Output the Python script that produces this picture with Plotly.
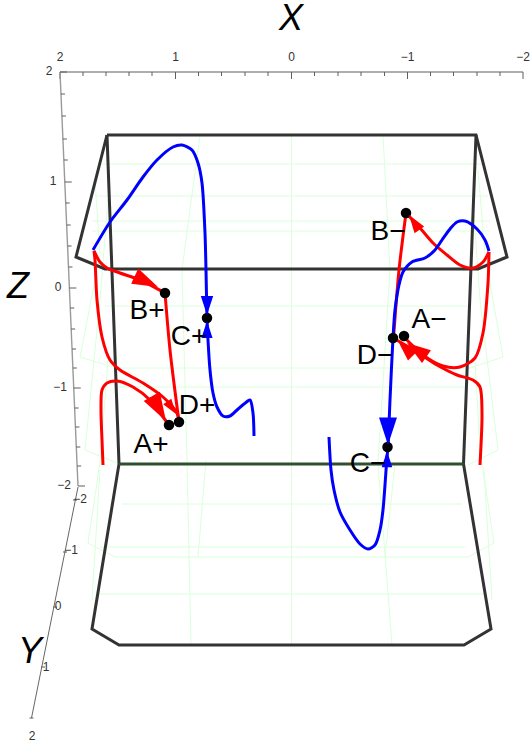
import plotly.graph_objects as go

# --- projected positions ---
frame_paths = [
    ([107, 476, 507, 478, 105, 76, 107], [135, 135, 257, 269, 269, 257, 135]),
    ([107, 119, 92, 119, 464, 491, 463.5, 476], [135, 464, 629, 645, 645, 629, 464, 135]),
]
floor_edge_x = [119, 463.5]
floor_edge_y = [464, 464]

grid_paths = [
    ([100, 482], [164, 164]), ([95, 488], [196, 196]), ([92, 490], [221, 221]), ([92, 490], [231, 231]),
    ([105, 470], [306, 306]), ([113, 470], [368, 368]), ([115, 468], [387, 387]),
    ([122, 462], [504, 504]), ([100, 465], [547, 547]), ([115, 468], [557, 557]), ([98, 485], [594, 594]),
    ([291.5, 291.5], [135, 645]),
    ([200, 182, 187, 191], [135, 270, 460, 645]), ([383, 390, 378, 392], [135, 270, 464, 645]),
    ([206, 198], [460, 557]), ([395, 385], [464, 557]),
    ([80, 113], [357, 367]), ([85, 117], [450, 463]), ([88, 115], [543, 557]),
    ([503, 470], [357, 368]), ([498, 468], [450, 465]), ([494, 468], [543, 557]),
    ([80, 100, 95], [357, 255, 180]), ([85, 100, 108], [450, 300, 200]), ([88, 100, 108], [543, 462, 360]),
    ([503, 485, 478], [357, 255, 170]), ([498, 480, 473], [450, 300, 200]), ([494, 480, 475], [543, 450, 360]),
    ([100, 92], [470, 600]), ([484, 492], [470, 600]),
]

x_axis_major = [60, 175.5, 291.5, 407.5, 523]
x_axis_minor = [83, 106, 129, 152, 198.5, 221.5, 245, 268, 314.5, 338, 361, 384.5, 430.5, 453.5, 477, 500]
x_axis_labels = ["2", "1", "0", "−1", "−2"]

z_axis_major_y = [72, 182, 288, 388, 486]
z_axis_minor_y = [94, 116, 139, 160, 203, 225, 246, 267, 308, 329, 349, 368, 408, 427, 447, 466]
z_axis_labels = ["2", "1", "0", "−1", "−2"]
z_label_x = [49, 53, 58, 60, 64]

y_axis_x = [78, 31.5]
y_axis_y = [487, 718]
y_tick_x = [75, 65, 55, 43, 31.5]
y_tick_y = [500, 552, 607, 667, 718]
y_axis_labels = ["−2", "−1", "0", "1", "2"]
y_label_x = [80, 71, 58, 46, 32]
y_label_y = [500, 551, 607, 668, 737]

blue_curves = [
    ([93, 110, 127, 143, 157, 173, 182, 192, 198, 202, 205, 206, 207, 208, 210, 213, 217, 223, 230, 237, 244, 250, 253, 254],
     [250, 222, 200, 177, 160, 147, 145, 150, 163, 183, 233, 270, 318, 340, 370, 393, 407, 416, 416, 410, 404, 400, 413, 436]),
    ([489, 485, 477, 465, 457, 450, 442, 435, 425, 412, 403, 399, 395, 393, 390, 388, 387, 383, 380, 375, 368, 360, 350, 340, 334, 331, 329],
     [251, 240, 229, 221, 222, 229, 240, 250, 258, 262, 272, 285, 310, 338, 400, 447, 457, 510, 530, 545, 549, 544, 530, 512, 490, 470, 437]),
]
red_curves = [
    ([94, 100, 107, 120, 140, 165], [251, 262, 268, 273, 280, 293]),
    ([94, 95, 97, 102, 110, 120, 143, 163, 177, 179], [251, 260, 300, 337, 360, 370, 383, 397, 413, 422]),
    ([165, 170, 179], [293, 350, 422]),
    ([103, 102, 101, 102, 107, 117, 133, 150, 160, 169], [465, 440, 410, 390, 383, 381, 387, 400, 413, 425]),
    ([489, 483, 473, 460, 447, 433, 420, 406], [252, 262, 268, 265, 255, 243, 228, 213]),
    ([406, 399, 393.5], [213, 270, 338]),
    ([489, 488, 483, 475, 460, 443, 423, 404], [252, 283, 333, 358, 367, 366, 355, 337]),
    ([480, 482, 480, 473, 457, 437, 417, 395], [465, 413, 387, 380, 375, 365, 352, 339]),
]

red_head_x = [158, 176, 166, 409, 407, 398]
red_head_y = [287, 414, 421, 215, 343, 341]
red_head_angle = [115, 145, 150, -35, -55, -45]
red_head_size = [27, 16, 30, 19, 25, 22]

blue_head_x = [207, 207, 388, 387]
blue_head_y = [315, 321, 445, 451]
blue_head_angle = [180, 0, 180, 0]
blue_head_size = [20, 18, 29, 17]

point_x = [169, 179, 165, 207, 404, 406, 387.5, 393]
point_y = [425, 422, 293, 318, 336, 213, 447, 338]

pt_label = ["A+", "D+", "B+", "C+", "A−", "B−", "C−", "D−"]
pt_label_x = [151, 197, 147, 189, 429, 388, 368, 375]
pt_label_y = [446, 407, 312, 338, 321, 233, 465, 357]

axis_title = ["X", "Y", "Z"]
axis_title_x = [291, 30, 18]
axis_title_y = [21, 654, 289]

FONT = "Liberation Sans"
AX = "#5f5f5f"
fig = go.Figure()


def line(xs, ys, color, width, shape="linear"):
    fig.add_trace(go.Scatter(x=xs, y=ys, mode="lines", hoverinfo="skip",
                             line=dict(color=color, width=width, shape=shape, smoothing=0.8)))


for gx, gy in grid_paths:
    line(gx, gy, "rgb(218,255,218)", 1)

# axes
line([x_axis_major[0], x_axis_major[-1]], [72, 72], AX, 1.2)
for v in x_axis_major:
    line([v, v], [72, 79], AX, 1)
for v in x_axis_minor:
    line([v, v], [72, 76], AX, 1)
z_top, z_bot = (60, 72), (78, 486)


def z_x(yv):
    return z_top[0] + (yv - z_top[1]) * (z_bot[0] - z_top[0]) / (z_bot[1] - z_top[1])


line([z_top[0], z_bot[0]], [z_top[1], z_bot[1]], "#9a9a9a", 1.4)
for v in z_axis_major_y:
    line([z_x(v), z_x(v) + 7], [v, v], AX, 1)
for v in z_axis_minor_y:
    line([z_x(v), z_x(v) + 4], [v, v], AX, 1)
line(y_axis_x, y_axis_y, "#555555", 0.9)
for tx, ty in zip(y_tick_x, y_tick_y):
    line([tx - 2, tx + 2], [ty, ty], AX, 1)

# frame
for fx, fy in frame_paths:
    line(fx, fy, "#333333", 3)
line(floor_edge_x, floor_edge_y, "#2f4f2f", 3)

# curves
for cx, cy in red_curves:
    line(cx, cy, "#ff0000", 3, "spline")
for cx, cy in blue_curves:
    line(cx, cy, "#0000ff", 3, "spline")

fig.add_trace(go.Scatter(x=point_x, y=point_y, mode="markers", hoverinfo="skip",
                         marker=dict(color="black", size=10.5, line=dict(width=0))))
fig.add_trace(go.Scatter(x=red_head_x, y=red_head_y, mode="markers", hoverinfo="skip",
                         marker=dict(symbol="arrow", color="#ff0000", size=red_head_size, angle=red_head_angle,
                                     opacity=1, line=dict(width=0))))
fig.add_trace(go.Scatter(x=blue_head_x, y=blue_head_y, mode="markers", hoverinfo="skip",
                         marker=dict(symbol="arrow", color="#0000ff", size=blue_head_size, angle=blue_head_angle,
                                     opacity=1, line=dict(width=0))))


def text(xs, ys, labels, size, style="normal", color="black"):
    fig.add_trace(go.Scatter(x=xs, y=ys, text=labels, mode="text", hoverinfo="skip", textposition="middle center",
                             cliponaxis=False,
                             textfont=dict(family=FONT, size=size, color=color, style=style)))


text(x_axis_major, [58] * 5, x_axis_labels, 12, color="#333333")
text(z_label_x, z_axis_major_y, z_axis_labels, 12, color="#333333")
text(y_label_x, y_label_y, y_axis_labels, 12, color="#333333")
text(pt_label_x, pt_label_y, pt_label, 28)
text(axis_title_x, axis_title_y, axis_title, 36, style="italic")

fig.update_layout(
    width=531, height=747, showlegend=False, margin=dict(l=0, r=0, t=0, b=0),
    paper_bgcolor="white", plot_bgcolor="white",
    xaxis=dict(range=[0, 531], visible=False, fixedrange=True),
    yaxis=dict(range=[747, 0], visible=False, fixedrange=True),
)
fig.write_html("out.html", config={"displayModeBar": False},
               post_script="document.body.style.margin='0';document.body.style.overflow='hidden';")
